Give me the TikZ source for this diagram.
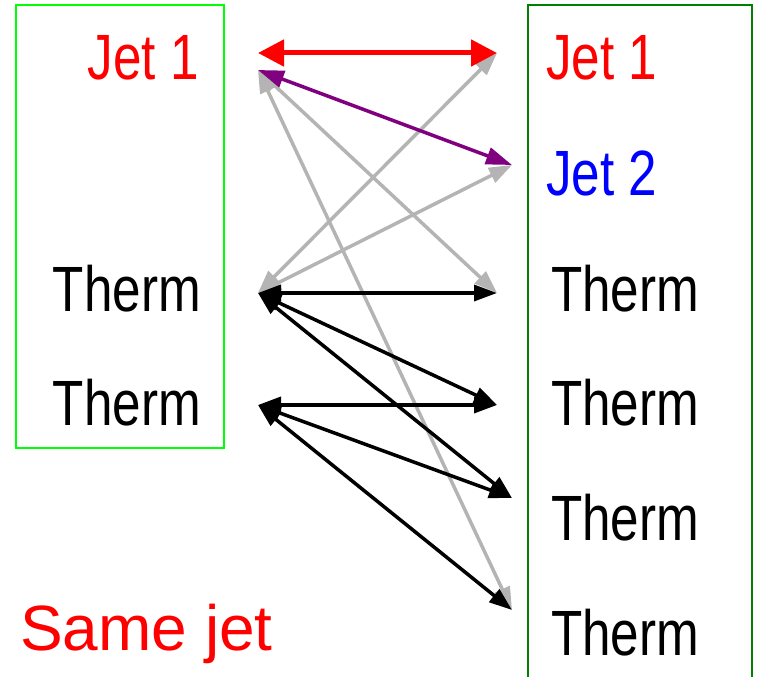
\documentclass[tikz,border=0pt]{standalone}
\usepackage{fontspec}
\setmainfont{Liberation Sans}
\newfontfamily\narrowfont[FakeStretch=0.8]{Liberation Sans}
\usetikzlibrary{arrows.meta}
\definecolor{boxgreenA}{RGB}{0,255,0}
\definecolor{boxgreenB}{RGB}{0,128,0}
\definecolor{purp}{RGB}{128,0,128}
\definecolor{grayln}{RGB}{180,180,180}
\begin{document}
\begin{tikzpicture}[x=1pt,y=-1pt,
  lbl/.style={font=\narrowfont\fontsize{64}{64}\selectfont, inner sep=0pt},
  conn/.style={line width=3.5pt, {Triangle[length=23pt,width=16pt]}-{Triangle[length=23pt,width=16pt]}},
  redconn/.style={line width=5pt, red, {Triangle[length=26pt,width=26pt]}-{Triangle[length=26pt,width=26pt]}},
  purpconn/.style={conn, purp, {Triangle[length=26pt,width=17pt]}-{Triangle[length=26pt,width=17pt]}},
  grayconn/.style={conn, grayln},
  blackconn/.style={conn, black}]
\useasboundingbox (0,0) rectangle (758,677);
% boxes
\draw[boxgreenA, line width=1.5pt] (16,5) rectangle (224,448);
\draw[boxgreenB, line width=1.5pt] (528,690) -- (528,5) -- (752,5) -- (752,690);
% labels
\node[lbl, red, anchor=base east] (lj1) at (199,80) {Jet 1};
\node[lbl, anchor=base east] (lt1) at (201,311) {Therm};
\node[lbl, anchor=base east] (lt2) at (201,425) {Therm};
\node[lbl, red, anchor=base west] (rj1) at (546,80) {Jet 1};
\node[lbl, blue, anchor=base west] (rj2) at (546,195) {Jet 2};
\node[lbl, anchor=base west] (rt1) at (551,311) {Therm};
\node[lbl, anchor=base west] (rt2) at (551,425) {Therm};
\node[lbl, anchor=base west] (rt3) at (551,540) {Therm};
\node[lbl, anchor=base west] (rt4) at (551,655) {Therm};
\node[font=\fontsize{64}{64}\selectfont, red, inner sep=0pt, anchor=base west] (same) at (20,650) {Same jet};
% anchor points
\coordinate (Lj1a) at (258,53);
\coordinate (Lj1b) at (258,70);
\coordinate (Lt1) at (258,293);
\coordinate (Lt2) at (258,405);
\coordinate (Rj1) at (497,53);
\coordinate (Rj2) at (512,165);
\coordinate (Rt1) at (497,293);
\coordinate (Rt2) at (497,405);
\coordinate (Rt3) at (512,498);
\coordinate (Rt4) at (512,610);
% gray
\draw[grayconn] (Lj1b) -- (Rt1);
\draw[grayconn] (Lj1b) -- (Rt4);
\draw[grayconn] (Lt1) -- (Rj1);
\draw[grayconn] (Lt1) -- (Rj2);
% black
\draw[blackconn] (Lt1) -- (Rt1);
\draw[blackconn] (Lt1) -- (Rt2);
\draw[blackconn] (Lt1) -- (Rt3);
\draw[blackconn] (Lt2) -- (Rt2);
\draw[blackconn] (Lt2) -- (Rt3);
\draw[blackconn] (Lt2) -- (Rt4);
% red and purple
\draw[redconn] (Lj1a) -- (Rj1);
\draw[purpconn] (Lj1b) -- (Rj2);
\end{tikzpicture}
\end{document}
